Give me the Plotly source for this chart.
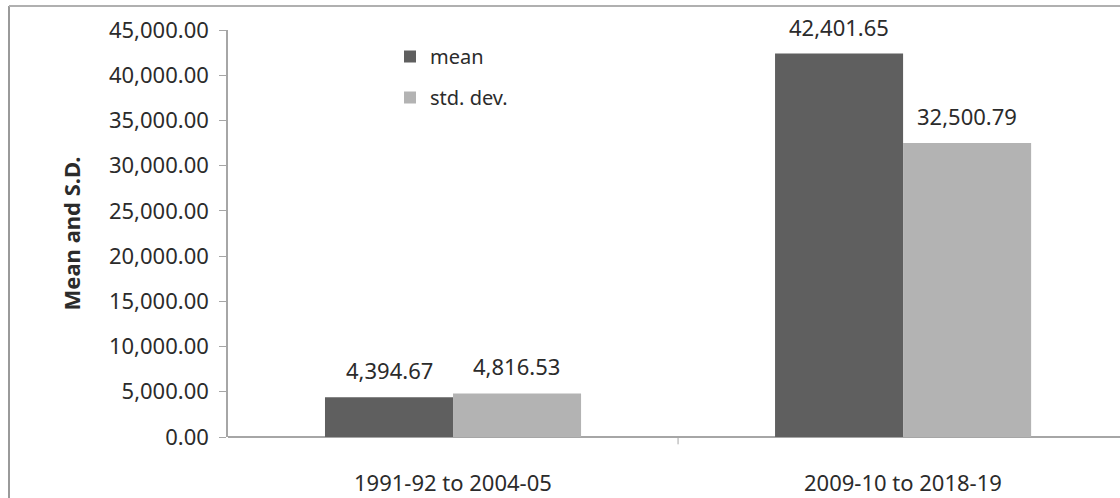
import plotly.graph_objects as go

# Periods and summary statistics
periods = ["1991-92 to 2004-05", "2009-10 to 2018-19"]
mean_vals = [4394.67, 42401.65]
std_vals = [4816.53, 32500.79]
y_ticks = [0, 5000, 10000, 15000, 20000, 25000, 30000, 35000, 40000, 45000]

FONT = "Noto Sans"
TXT = "#2b2b2b"
AXIS = "#a6a6a6"
FS = 22

W, H = 1120, 498
L, R, T, B = 228, 0, 30, 61

fig = go.Figure()
fig.add_trace(go.Bar(name="mean", x=[0, 1], y=mean_vals, legendgroup="m",
                     marker=dict(color="#5f5f5f", line=dict(width=0))))
fig.add_trace(go.Bar(name="std. dev.", x=[0, 1], y=std_vals, legendgroup="s",
                     marker=dict(color="#b3b3b3", line=dict(width=0))))

# Value labels above each bar
for xc, vals in [(-0.142, mean_vals), (0.142, std_vals)]:
    for i, v in enumerate(vals):
        fig.add_annotation(x=i + xc, y=v, text=f"{v:,.2f}", showarrow=False,
                           xref="x", yref="y", yanchor="middle", yshift=27,
                           font=dict(family=FONT, size=FS, color=TXT))

# Category labels
for i, p in enumerate(periods):
    fig.add_annotation(x=i, y=0, text=p, showarrow=False, xref="x", yref="y",
                       yanchor="middle", yshift=-45,
                       font=dict(family=FONT, size=FS, color=TXT))

# Category divider tick on the x axis
fig.add_shape(type="line", xref="x", yref="paper", x0=0.5, x1=0.5,
              y0=0, y1=-0.018, line=dict(color=AXIS, width=1))

# Outer frame (left and top edges)
pw = W - L - R
ph = H - T - B
fx = (9 - L) / pw
fy_top = (H - B - 6) / ph
fig.add_shape(type="line", xref="paper", yref="paper", x0=fx, x1=fx,
              y0=-(B + 5) / ph, y1=fy_top, line=dict(color="#9a9a9a", width=2))
fig.add_shape(type="line", xref="paper", yref="paper", x0=fx, x1=(W - L) / pw + 0.1,
              y0=fy_top, y1=fy_top, line=dict(color="#b0b0b0", width=2))

fig.update_layout(
    width=W, height=H,
    margin=dict(l=L, r=R, t=T, b=B, pad=0),
    paper_bgcolor="white", plot_bgcolor="white",
    barmode="group", bargap=0.431, bargroupgap=0,
    font=dict(family=FONT, size=FS, color=TXT),
    showlegend=True,
    legend=dict(x=(390 - L) / pw, y=(H - B - 37) / ph, xanchor="left", yanchor="top",
                bgcolor="rgba(0,0,0,0)", font=dict(family=FONT, size=20, color=TXT),
                itemwidth=30, tracegroupgap=12, traceorder="grouped"),
    xaxis=dict(range=[-0.5, 1.482], showticklabels=False, showgrid=False,
               zeroline=False, showline=False, ticks=""),
    yaxis=dict(range=[0, 45000], tickvals=y_ticks,
               ticktext=[f"{v:,.2f}" for v in y_ticks],
               tickfont=dict(family=FONT, size=FS, color=TXT),
               showgrid=False, zeroline=True, zerolinecolor=AXIS, zerolinewidth=1.5,
               showline=True, linecolor=AXIS, linewidth=1.5,
               ticks="outside", ticklen=7, tickcolor=AXIS, ticklabelstandoff=6,
               title=dict(text="<b>Mean and S.D.</b>", standoff=22,
                          font=dict(family=FONT, size=22, color=TXT))),
)

fig.write_html("out.html")
